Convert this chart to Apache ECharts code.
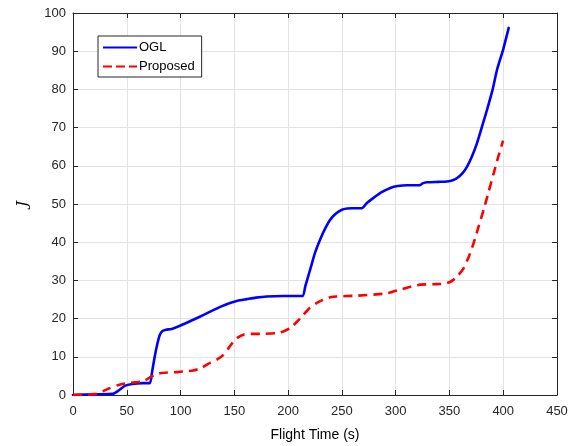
<!DOCTYPE html>
<html><head><meta charset="utf-8">
<script src="https://cdn.jsdelivr.net/npm/echarts@6/dist/echarts.min.js"></script>
<style>html,body{margin:0;padding:0;background:#fff}#c{width:579px;height:446px}</style>
</head><body><div id="c"></div>
<script>
var xTicks = [0,50,100,150,200,250,300,350,400,450];
var yTicks = [0,10,20,30,40,50,60,70,80,90,100];
var oglX = [0,20,37,43,48,55,65,71.5,73.5,76,78.5,80.8,83.5,86.4,91.7,100,111.8,121,130.4,138,146,153,161.5,170,180,195,213.3,216,220.5,225,229.8,234.5,239.1,244.5,250,255,259.3,268.6,273,279.4,287,295,302,310.5,322.3,325,329.1,340,347.8,353,357.1,362,366.4,371,375.7,380,385,390,394.3,400,405.1];
var oglY = [0,0.2,0.3,1.3,2.4,2.9,3.1,3.1,6,10.1,13.5,15.8,16.8,17.1,17.3,18.2,19.7,20.9,22.2,23.2,24.1,24.7,25.1,25.5,25.8,25.9,25.9,28.5,32.8,37.2,40.7,43.6,45.9,47.5,48.5,48.8,48.9,48.9,50.2,51.6,53.1,54.2,54.7,54.9,54.9,55.4,55.7,55.8,55.9,56.2,56.8,58,59.8,62.5,66,70,74.7,79.8,85.2,90.5,96.1];
var propX = [0,10,21.9,28,34.3,41,48.2,57,65.3,71.5,76,80.8,88,96.4,104,111.8,120,127.4,134,139.8,144.5,149.1,153.5,158.4,165,173.9,189.5,196,201.9,208,214.3,220,226.7,234,239.1,245.3,264,288.7,296,304.3,313,322.9,335,344.6,350,353.9,358,363.2,368,372.5,377,381.8,386.5,391.2,395.5,399.9];
var propY = [0,0.1,0.3,1,1.8,2.5,3.0,3.3,3.6,4.6,5.3,5.7,5.9,6.0,6.2,6.4,7.2,8.4,9.3,10.5,12.2,14.0,15.1,15.8,16.0,16.0,16.2,16.7,17.5,19.1,21.0,22.8,24.1,25.1,25.6,25.8,26.0,26.5,26.9,27.6,28.3,28.9,29.0,29.1,29.5,30.2,31.3,33.2,36.2,39.8,44,48.5,53.3,58.1,62.5,66.6];

function pairs(xs, ys){ return xs.map(function(x,i){ return [x, ys[i]]; }); }

var axisCol = '#262626';
var font = 'Liberation Sans, Arial, sans-serif';
var chart = echarts.init(document.getElementById('c'), null, {renderer:'canvas'});
chart.setOption({
  animation:false,
  backgroundColor:'#fff',
  grid:{left:73, right:22, top:13, bottom:51, show:false, containLabel:false, outerBoundsMode:'none'},
  legend:{
    left:98, top:36, orient:'vertical', itemGap:6, itemWidth:34, itemHeight:10,
    backgroundColor:'#fff', borderColor:axisCol, borderWidth:1, borderRadius:0,
    padding:[5,7,4,5],
    textStyle:{fontFamily:font, fontSize:13, color:'#000', padding:[0,0,0,-3]},
    data:[{name:'OGL', icon:'path://M0,4 L34,4 L34,6 L0,6 Z'},{name:'Proposed', icon:'path://M0,4 L9,4 L9,6 L0,6 Z M13,4 L22,4 L22,6 L13,6 Z M26,4 L34,4 L34,6 L26,6 Z'}]
  },
  xAxis:[{
    type:'value', min:0, max:450, interval:50, position:'bottom',
    name:'Flight Time (s)', nameLocation:'middle', nameGap:33,
    nameTextStyle:{fontFamily:font, fontSize:14, color:'#000'},
    axisLine:{show:true, onZero:false, lineStyle:{color:axisCol, width:1}},
    axisTick:{show:true, inside:true, length:5, lineStyle:{color:axisCol}},
    axisLabel:{fontFamily:font, fontSize:13, color:axisCol, margin:10},
    splitLine:{show:true, lineStyle:{color:'#e3e3e3', width:1}}
  },{
    type:'value', min:0, max:450, interval:50, position:'top',
    axisLine:{show:true, onZero:false, lineStyle:{color:axisCol, width:1}},
    axisTick:{show:true, inside:true, length:5, lineStyle:{color:axisCol}},
    axisLabel:{show:false}, splitLine:{show:false}
  }],
  yAxis:[{
    type:'value', min:0, max:100, interval:10, position:'left',
    name:'J', nameLocation:'middle', nameGap:42,
    nameTextStyle:{fontFamily:'DejaVu Serif, Liberation Serif, serif', fontStyle:'italic', fontSize:15, color:'#000'},
    axisLine:{show:true, onZero:false, lineStyle:{color:axisCol, width:1}},
    axisTick:{show:true, inside:true, length:5, lineStyle:{color:axisCol}},
    axisLabel:{fontFamily:font, fontSize:13, color:axisCol, margin:7},
    splitLine:{show:true, lineStyle:{color:'#e3e3e3', width:1}}
  },{
    type:'value', min:0, max:100, interval:10, position:'right',
    axisLine:{show:true, onZero:false, lineStyle:{color:axisCol, width:1}},
    axisTick:{show:true, inside:true, length:5, lineStyle:{color:axisCol}},
    axisLabel:{show:false}, splitLine:{show:false}
  }],
  series:[{
    name:'OGL', type:'line', xAxisIndex:0, yAxisIndex:0, showSymbol:false, smooth:0.2,
    data:pairs(oglX, oglY), color:'#0000ff',
    lineStyle:{color:'#0000ff', width:2.6, cap:'round', join:'round'}
  },{
    name:'Proposed', type:'line', xAxisIndex:0, yAxisIndex:0, showSymbol:false, smooth:0.2,
    data:pairs(propX, propY), color:'#ff0000',
    lineStyle:{color:'#ff0000', width:2.6, type:[9,6]}
  }]
});
</script></body></html>
